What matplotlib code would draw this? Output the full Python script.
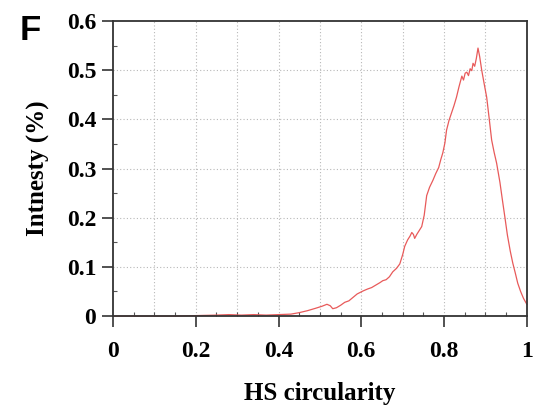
import numpy as np
import matplotlib.pyplot as plt
from matplotlib.ticker import MultipleLocator, FuncFormatter

# HS circularity vs intensity
circ = [0.0, 0.05, 0.10, 0.15, 0.20, 0.25, 0.28, 0.31, 0.34, 0.37, 0.40, 0.43,
        0.45, 0.47, 0.49, 0.505, 0.517, 0.525, 0.531, 0.54, 0.55, 0.56, 0.57,
        0.58, 0.59, 0.604, 0.615, 0.625, 0.635, 0.645, 0.652, 0.66, 0.668, 0.676,
        0.685, 0.693, 0.70, 0.705, 0.712, 0.718, 0.722, 0.726, 0.729, 0.734,
        0.740, 0.746, 0.752, 0.758, 0.765, 0.773, 0.780, 0.787, 0.792, 0.797,
        0.802, 0.806, 0.812, 0.818, 0.824, 0.830, 0.836, 0.843, 0.847, 0.851,
        0.855, 0.859, 0.863, 0.867, 0.870, 0.874, 0.878, 0.882, 0.886, 0.891,
        0.897, 0.903, 0.909, 0.915, 0.921, 0.927, 0.935, 0.941, 0.947, 0.953,
        0.960, 0.966, 0.972, 0.978, 0.985, 0.992, 1.0]
intensity = [0.0, 0.0, 0.0, 0.0, 0.001, 0.002, 0.003, 0.002, 0.003, 0.002, 0.003, 0.004,
             0.007, 0.011, 0.016, 0.020, 0.024, 0.021, 0.015, 0.017, 0.022, 0.028, 0.031,
             0.038, 0.045, 0.051, 0.055, 0.058, 0.063, 0.068, 0.072, 0.074, 0.080, 0.090,
             0.097, 0.106, 0.125, 0.142, 0.155, 0.163, 0.170, 0.166, 0.158, 0.166,
             0.174, 0.182, 0.205, 0.245, 0.262, 0.276, 0.290, 0.302, 0.318, 0.332,
             0.352, 0.378, 0.398, 0.413, 0.428, 0.445, 0.466, 0.488, 0.480, 0.494,
             0.496, 0.489, 0.503, 0.499, 0.514, 0.508, 0.524, 0.545, 0.528, 0.500,
             0.472, 0.445, 0.402, 0.358, 0.333, 0.311, 0.272, 0.236, 0.201, 0.165,
             0.132, 0.108, 0.088, 0.067, 0.050, 0.036, 0.024]

plt.rcParams['font.family'] = ['Liberation Serif', 'DejaVu Serif']
plt.rcParams['font.weight'] = 'bold'
plt.rcParams['axes.labelweight'] = 'bold'

fig = plt.figure(figsize=(5.42, 4.17), dpi=100)
ax = fig.add_axes([0.2085, 0.242, 0.7635, 0.7076])

# dotted grid every 0.1 on both axes
for g in np.arange(0.1, 1.0, 0.1):
    ax.axvline(g, color='#b8b8b8', lw=0.8, ls=(0, (1, 2)), zorder=0)
for g in np.arange(0.1, 0.6, 0.1):
    ax.axhline(g, color='#b8b8b8', lw=0.8, ls=(0, (1, 2)), zorder=0)

ax.plot(circ, intensity, color='#e85a5a', lw=0.9, clip_on=False)

ax.set_xlim(0, 1)
ax.set_ylim(0, 0.6)
ax.xaxis.set_major_locator(MultipleLocator(0.2))
ax.xaxis.set_minor_locator(MultipleLocator(0.05))
ax.yaxis.set_major_locator(MultipleLocator(0.1))
ax.yaxis.set_minor_locator(MultipleLocator(0.05))
fmt = FuncFormatter(lambda v, p: '%g' % round(v, 2))
ax.xaxis.set_major_formatter(fmt)
ax.yaxis.set_major_formatter(fmt)

ax.tick_params(axis='both', which='major', direction='out', length=8, width=1.2,
               color='#333333', labelsize=17)
ax.tick_params(axis='x', which='major', pad=10)
ax.tick_params(axis='y', which='major', pad=4)
ax.tick_params(axis='both', which='minor', direction='in', length=3, width=0.8,
               color='#555555')

for s in ax.spines.values():
    s.set_color('#333333')
    s.set_linewidth(1.3)

ax.set_xlabel('HS circularity', fontsize=18, labelpad=14)
ax.set_ylabel('Intnesty (%)', fontsize=18, labelpad=12)

fig.text(0.037, 0.928, 'F', fontfamily='Liberation Sans', fontweight='bold',
         fontsize=25, ha='left', va='center')

fig.savefig('out.png', dpi=100)
